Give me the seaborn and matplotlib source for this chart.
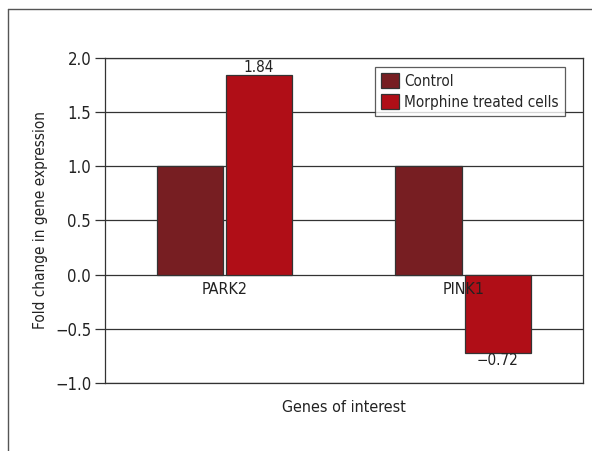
import matplotlib
matplotlib.use("Agg")
import matplotlib.pyplot as plt
import matplotlib.patches as mpatches
import seaborn as sns
import pandas as pd

genes = ["PARK2", "PINK1"]
groups = ["Control", "Morphine treated cells"]
control = [1.0, 1.0]
morphine = [1.84, -0.72]
colors = ["#771E22", "#B00E17"]

df = pd.DataFrame({
    "gene": genes * 2,
    "group": [groups[0]] * 2 + [groups[1]] * 2,
    "fold": control + morphine,
})

sns.set_style("white")
plt.rcParams["font.family"] = ["DejaVu Sans"]
plt.rcParams["font.stretch"] = "condensed"
FS = 11

fig = plt.figure(figsize=(5.92, 4.51), dpi=100)
ax = fig.add_axes([0.1774, 0.1508, 0.807, 0.7206])

sns.barplot(data=df, x="gene", y="fold", hue="group", palette=colors,
            width=0.58, gap=0.04, edgecolor="#333333", linewidth=0.9,
            saturation=1, ax=ax, legend=False, zorder=3)

# value labels only for the treated bars
ax.bar_label(ax.containers[1], padding=0, fontsize=FS,
             labels=["1.84", "\u22120.72"], color="#222222")

ax.set_ylim(-1.0, 2.0)
ax.set_xlim(-0.5, 1.5)
ax.set_yticks([-1.0, -0.5, 0.0, 0.5, 1.0, 1.5, 2.0])
ax.set_yticklabels(["\u22121.0", "\u22120.5", "0.0", "0.5", "1.0", "1.5", "2.0"])
ax.yaxis.grid(True, color="#333333", linewidth=0.9, zorder=0)
ax.tick_params(axis="y", left=True, length=7, width=0.9, color="#333333",
               labelsize=FS + 1, pad=3, labelcolor="#222222")
ax.tick_params(axis="x", bottom=False, labelbottom=False)
for s in ax.spines.values():
    s.set_color("#333333")
    s.set_linewidth(0.9)

# gene names sit just under the zero line
for i, g in enumerate(genes):
    ax.annotate(g, (i, 0), xytext=(0, -5), textcoords="offset points",
                ha="center", va="top", fontsize=FS + 0.5, color="#222222", zorder=4)

ax.set_xlabel("Genes of interest", fontsize=FS + 0.5, labelpad=12, color="#222222")
ax.set_ylabel("Fold change in gene expression", fontsize=FS, labelpad=5,
              color="#222222")

handles = [mpatches.Patch(facecolor=c, edgecolor="#333333", linewidth=0.9)
           for c in colors]
leg = ax.legend(handles, groups, loc="upper right", bbox_to_anchor=(0.963, 0.973),
                frameon=True, fancybox=False, fontsize=FS, handlelength=1.15,
                handleheight=1.15, handletextpad=0.35, borderpad=0.4,
                labelspacing=0.35, borderaxespad=0)
leg.get_frame().set_edgecolor("#333333")
leg.get_frame().set_linewidth(0.9)

# outer frame
fig.add_artist(plt.Line2D([8 / 592, 8 / 592], [0, 1 - 9 / 451],
                          transform=fig.transFigure, color="#555555", lw=1))
fig.add_artist(plt.Line2D([8 / 592, 1], [1 - 9 / 451, 1 - 9 / 451],
                          transform=fig.transFigure, color="#555555", lw=1))

fig.savefig("out.png", dpi=100)
